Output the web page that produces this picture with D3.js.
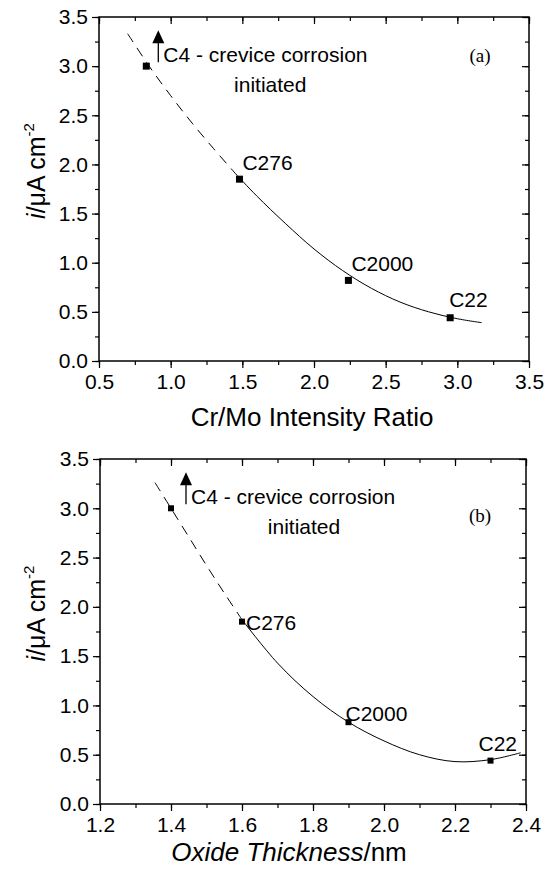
<!DOCTYPE html>
<html>
<head>
<meta charset="utf-8">
<script src="https://cdn.jsdelivr.net/npm/d3@7"></script>
<style>
  body { margin: 0; background: #fff; }
  text { font-family: "Liberation Sans", Arial, sans-serif; fill: #000; }
</style>
</head>
<body>
<div id="chart"></div>
<script>
// --- data ---
const alloys = ["C4", "C276", "C2000", "C22"]
const crMoRatio = [0.83, 1.48, 2.24, 2.95]
const currentA = [3.0, 1.85, 0.82, 0.44]
const oxideThickness = [1.40, 1.60, 1.90, 2.30]
const currentB = [3.0, 1.85, 0.83, 0.44]

// fitted trend lines (dashed = extrapolated part)
const fitA_dash_x = [0.70, 0.85, 1.00, 1.15, 1.30, 1.45]
const fitA_dash_y = [3.33, 3.00, 2.70, 2.42, 2.16, 1.91]
const fitA_solid_x = [1.45, 1.60, 1.80, 2.00, 2.20, 2.40, 2.60, 2.80, 3.00, 3.17]
const fitA_solid_y = [1.91, 1.68, 1.40, 1.14, 0.92, 0.74, 0.60, 0.50, 0.43, 0.39]
const fitB_dash_x = [1.355, 1.40, 1.45, 1.50, 1.55, 1.60]
const fitB_dash_y = [3.26, 3.00, 2.71, 2.42, 2.14, 1.87]
const fitB_solid_x = [1.60, 1.70, 1.80, 1.90, 2.00, 2.10, 2.20, 2.30, 2.385]
const fitB_solid_y = [1.87, 1.43, 1.09, 0.83, 0.64, 0.50, 0.43, 0.45, 0.52]

const yTicks = [0.0, 0.5, 1.0, 1.5, 2.0, 2.5, 3.0, 3.5]
const xTicksA = [0.5, 1.0, 1.5, 2.0, 2.5, 3.0, 3.5]
const xTicksB = [1.2, 1.4, 1.6, 1.8, 2.0, 2.2, 2.4]

const W = 554, H = 870

const svg = d3.select('#chart').append('svg')
    .attr('width', W)
    .attr('height', H)

function minors(domain, step) {
    const out = []
    for (let v = domain[0]; v <= domain[1] + 1e-9; v += step) out.push(+v.toFixed(3))
    return out
}

function drawPanel(cfg) {
    const x = d3.scaleLinear().domain(cfg.xDomain).range(cfg.xRange)
    const y = d3.scaleLinear().domain([0, 3.5]).range(cfg.yRange)
    const g = svg.append('g')

    const x0 = cfg.xRange[0], x1 = cfg.xRange[1]
    const y0 = cfg.yRange[0], y1 = cfg.yRange[1]

    // minor ticks first, majors on top
    const mkAxis = (axisFn, scale, vals, size) => axisFn(scale)
        .tickValues(vals).tickSize(size).tickSizeOuter(0).tickFormat('')

    const xMinor = minors(cfg.xDomain, cfg.xMinor)
    const yMinor = minors([0, 3.5], 0.25)

    g.append('g').attr('transform', `translate(0,${y0})`)
        .call(mkAxis(d3.axisBottom, x, xMinor, 4))
    g.append('g').attr('transform', `translate(0,${y1})`)
        .call(mkAxis(d3.axisTop, x, xMinor, -4))
    g.append('g').attr('transform', `translate(${x0},0)`)
        .call(mkAxis(d3.axisLeft, y, yMinor, 4))
    g.append('g').attr('transform', `translate(${x1},0)`)
        .call(mkAxis(d3.axisRight, y, yMinor, -4))

    const xb = g.append('g').attr('transform', `translate(0,${y0})`)
        .call(d3.axisBottom(x).tickValues(cfg.xTicks).tickSize(7).tickSizeOuter(0)
            .tickPadding(6).tickFormat(d3.format('.1f')))
    g.append('g').attr('transform', `translate(0,${y1})`)
        .call(mkAxis(d3.axisTop, x, cfg.xTicks, -7))
    const yl = g.append('g').attr('transform', `translate(${x0},0)`)
        .call(d3.axisLeft(y).tickValues(yTicks).tickSize(7).tickSizeOuter(0)
            .tickPadding(4).tickFormat(d3.format('.1f')))
    g.append('g').attr('transform', `translate(${x1},0)`)
        .call(mkAxis(d3.axisRight, y, yTicks, -7))

    g.selectAll('.domain').remove()
    g.selectAll('.tick line').attr('stroke', '#000').attr('stroke-width', 1.2)
    xb.selectAll('text').style('font-size', '21px')
        .style('font-family', '"Liberation Sans", Arial, sans-serif')
    yl.selectAll('text').style('font-size', '21px')
        .style('font-family', '"Liberation Sans", Arial, sans-serif')

    // frame
    g.append('rect')
        .attr('x', x0).attr('y', y1)
        .attr('width', x1 - x0).attr('height', y0 - y1)
        .attr('fill', 'none').attr('stroke', '#000').attr('stroke-width', 1.5)

    // trend line
    const line = d3.line()
        .x(d => x(d[0])).y(d => y(d[1]))
        .curve(d3.curveCatmullRom.alpha(0.5))
    g.append('path')
        .datum(d3.zip(cfg.dashX, cfg.dashY))
        .attr('d', line)
        .attr('fill', 'none').attr('stroke', '#000').attr('stroke-width', 1)
        .attr('stroke-dasharray', '10,7')
    g.append('path')
        .datum(d3.zip(cfg.solidX, cfg.solidY))
        .attr('d', line)
        .attr('fill', 'none').attr('stroke', '#000').attr('stroke-width', 1)

    // points
    const pts = d3.zip(cfg.px, cfg.py, alloys)
    g.selectAll('rect.pt').data(pts).join('rect')
        .attr('class', 'pt')
        .attr('x', d => x(d[0]) - cfg.ms / 2)
        .attr('y', d => y(d[1]) - cfg.ms / 2)
        .attr('width', cfg.ms).attr('height', cfg.ms)
        .attr('fill', '#000')

    // point labels (C276, C2000, C22)
    pts.slice(1).forEach((d, i) => {
        const off = cfg.labelOff[i]
        g.append('text')
            .attr('x', x(d[0]) + off[0])
            .attr('y', y(d[1]) + off[1])
            .style('font-size', '21px')
            .text(d[2])
    })

    // C4 arrow + note
    const ax = x(cfg.px[0]) + cfg.arrow.dx
    const ay = y(cfg.py[0])
    g.append('line')
        .attr('x1', ax).attr('x2', ax)
        .attr('y1', ay - 4).attr('y2', ay - 24)
        .attr('stroke', '#000').attr('stroke-width', 1.3)
    g.append('path')
        .attr('d', `M${ax - 6},${ay - 23}L${ax + 6},${ay - 23}L${ax},${ay - 36}Z`)
        .attr('fill', '#000')
    g.append('text')
        .attr('x', ax + 5).attr('y', ay - 4)
        .style('font-size', '21px')
        .text('C4 - crevice corrosion')
    g.append('text')
        .attr('x', ax + cfg.arrow.initDx).attr('y', ay + 26)
        .attr('text-anchor', 'middle')
        .style('font-size', '21px')
        .text('initiated')

    // panel tag
    g.append('text')
        .attr('x', 480).attr('y', y1 + cfg.tagDy)
        .attr('text-anchor', 'middle')
        .style('font-family', '"Liberation Serif", "Times New Roman", serif')
        .style('font-size', '19px')
        .text(cfg.tag)

    // y title
    const yt = g.append('text')
        .attr('transform', `translate(45,${(y0 + y1) / 2 - 18}) rotate(-90)`)
        .attr('text-anchor', 'middle')
        .style('font-size', '25px')
    yt.append('tspan').style('font-style', 'italic').text('i')
    yt.append('tspan').text('/\u03bcA cm')
    yt.append('tspan').attr('dy', -11).style('font-size', '15px').text('-2')

    // x title
    const xt = g.append('text')
        .attr('x', cfg.xTitle[0]).attr('y', cfg.xTitle[1])
        .attr('text-anchor', 'middle')
        .style('font-size', '26px')
    cfg.xTitleParts.forEach(p => {
        xt.append('tspan').style('font-style', p.italic ? 'italic' : 'normal').text(p.t)
    })
}

drawPanel({
    xDomain: [0.5, 3.5], xRange: [99, 529], yRange: [361, 17],
    xTicks: xTicksA, xMinor: 0.25,
    px: crMoRatio, py: currentA,
    dashX: fitA_dash_x, dashY: fitA_dash_y,
    solidX: fitA_solid_x, solidY: fitA_solid_y,
    ms: 7,
    labelOff: [[3, -9], [3, -9], [-1, -11]],
    arrow: {dx: 12, initDx: 112},
    tag: '(a)', tagDy: 45,
    xTitle: [312, 426],
    xTitleParts: [{t: 'Cr/Mo Intensity Ratio', italic: false}]
})

drawPanel({
    xDomain: [1.2, 2.4], xRange: [100, 526], yRange: [804, 459],
    xTicks: xTicksB, xMinor: 0.1,
    px: oxideThickness, py: currentB,
    dashX: fitB_dash_x, dashY: fitB_dash_y,
    solidX: fitB_solid_x, solidY: fitB_solid_y,
    ms: 6,
    labelOff: [[4, 8], [-3, -1], [-12, -10]],
    arrow: {dx: 15, initDx: 118},
    tag: '(b)', tagDy: 63,
    xTitle: [289, 861],
    xTitleParts: [{t: 'Oxide Thickness', italic: true}, {t: '/nm', italic: false}]
})
</script>
</body>
</html>
